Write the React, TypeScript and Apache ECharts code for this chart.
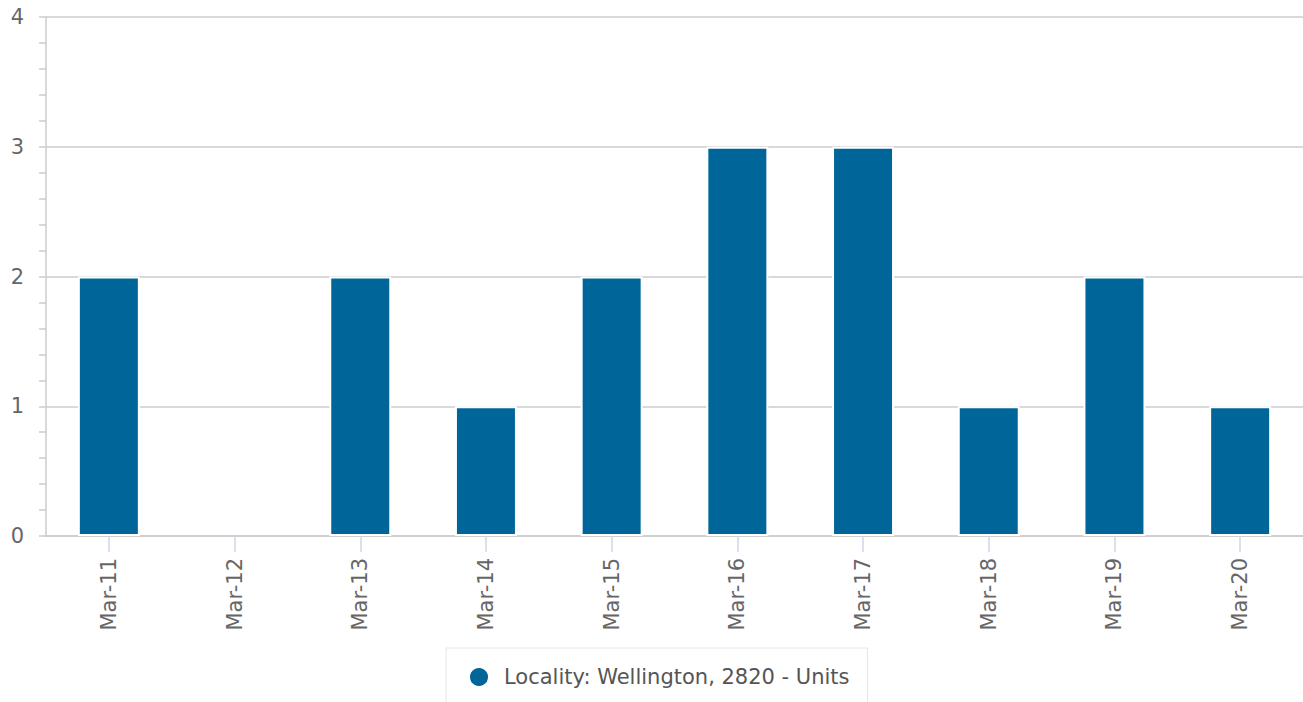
import React, { useEffect, useRef } from "react";
import * as echarts from "echarts";

const categories = ["Mar-11", "Mar-12", "Mar-13", "Mar-14", "Mar-15", "Mar-16", "Mar-17", "Mar-18", "Mar-19", "Mar-20"];
const units = [2, 0, 2, 1, 2, 3, 3, 1, 2, 1];
const seriesName = "Locality: Wellington, 2820 - Units";

export default function App() {
  const ref = useRef<HTMLDivElement>(null);
  useEffect(() => {
    const chart = echarts.init(ref.current!, null, { renderer: "svg" });
    chart.setOption({
      animation: false,
      textStyle: { fontFamily: "DejaVu Sans" },
      grid: { left: 46, right: 0, top: 17, bottom: 166, containLabel: false },
      legend: {
        show: true,
        top: 648,
        left: 446,
        icon: "circle",
        itemWidth: 40,
        itemHeight: 20,
        borderColor: "#e6e6e6",
        borderWidth: 1,
        padding: [18, 18, 40, 22],
        textStyle: { color: "#555", fontSize: 21, fontFamily: "DejaVu Sans" },
        data: [seriesName],
      },
      xAxis: {
        type: "category",
        data: categories,
        axisLine: { show: true, lineStyle: { color: "#ccc", width: 1.5 } },
        axisTick: { show: true, alignWithLabel: true, length: 16, lineStyle: { color: "#ccd6eb", width: 1.5 } },
        axisLabel: { rotate: 90, color: "#666", fontSize: 21, margin: 22, fontFamily: "DejaVu Sans" },
      },
      yAxis: {
        type: "value",
        min: 0,
        max: 4,
        interval: 1,
        axisLine: { show: true, lineStyle: { color: "#ccc", width: 1.5 } },
        axisTick: { show: true, inside: false, length: 7, lineStyle: { color: "#ccc", width: 1.5 } },
        minorTick: { show: true, splitNumber: 5, length: 7, lineStyle: { color: "#ccc", width: 1.5 } },
        splitLine: { show: true, lineStyle: { color: "#ccc", width: 1.5 } },
        axisLabel: { color: "#666", fontSize: 21, margin: 22, fontFamily: "DejaVu Sans" },
      },
      series: [
        {
          name: seriesName,
          type: "bar",
          data: units.map((v) => (v === 0 ? { value: v, itemStyle: { borderWidth: 0 } } : v)),
          barWidth: 62,
          itemStyle: { color: "#006699", borderColor: "#fff", borderWidth: 2 },
        },
      ],
    });
    return () => chart.dispose();
  }, []);
  return <div ref={ref} style={{ width: 1303, height: 702, position: "absolute", left: 0, top: 0 }} />;
}
